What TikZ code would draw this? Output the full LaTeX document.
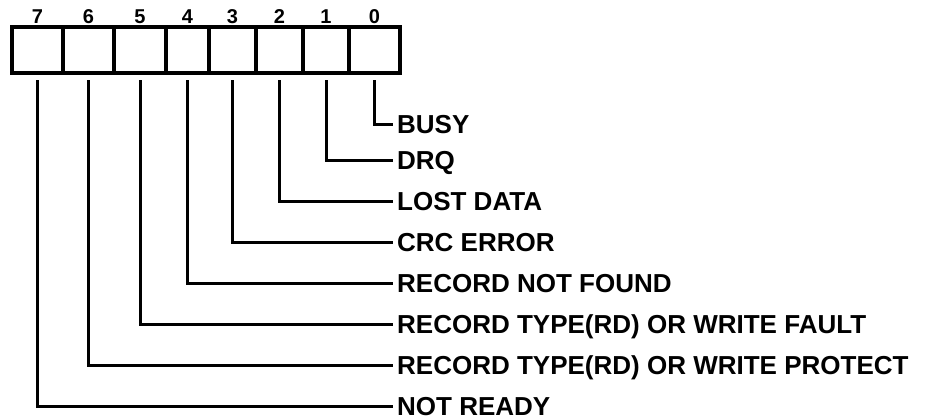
\documentclass[tikz,border=0pt]{standalone}
\usepackage{fontspec}
\setmainfont{Liberation Sans}
\usetikzlibrary{positioning}
\tikzset{
  cell/.style={draw, line width=4pt, inner sep=0pt, minimum height=46pt},
  bitnum/.style={inner sep=0pt, font=\fontsize{20}{22}\selectfont\bfseries},
  flag/.style={anchor=west, inner xsep=4pt, inner ysep=0pt, text height=18.6pt, text depth=0pt,
    font=\fontsize{26}{28}\selectfont\bfseries},
  wire/.style={line width=3pt}
}
\begin{document}
\begin{tikzpicture}[x=1pt, y=-1pt]
  \useasboundingbox (0,0) rectangle (926,420);
  % status register, bit 7 on the left
  \foreach \b/\x/\w in
    {
        7/37.5/51, 6/88.5/51, 5/140/52, 4/187.5/43,
        3/232.5/47, 2/279.5/47, 1/326/46, 0/374.5/51
    }
    {
        \node[cell, minimum width=\w pt] (c\b) at (\x, 50) {};
        \node[bitnum, above=1pt of c\b] (n\b) {\b};
    }
  \foreach \b/\y/\t in
    {
        0/124/BUSY, 1/160/DRQ, 2/201/LOST DATA, 3/242/CRC ERROR,
        4/283/RECORD NOT FOUND, 5/324/RECORD TYPE(RD) OR WRITE FAULT,
        6/365/RECORD TYPE(RD) OR WRITE PROTECT, 7/406/NOT READY
    }
    {
        \node[flag] (l\b) at (393, \y) {\t};
        \draw[wire] ([yshift=-5pt]c\b.south) |- (l\b.west);
    }
\end{tikzpicture}
\end{document}
